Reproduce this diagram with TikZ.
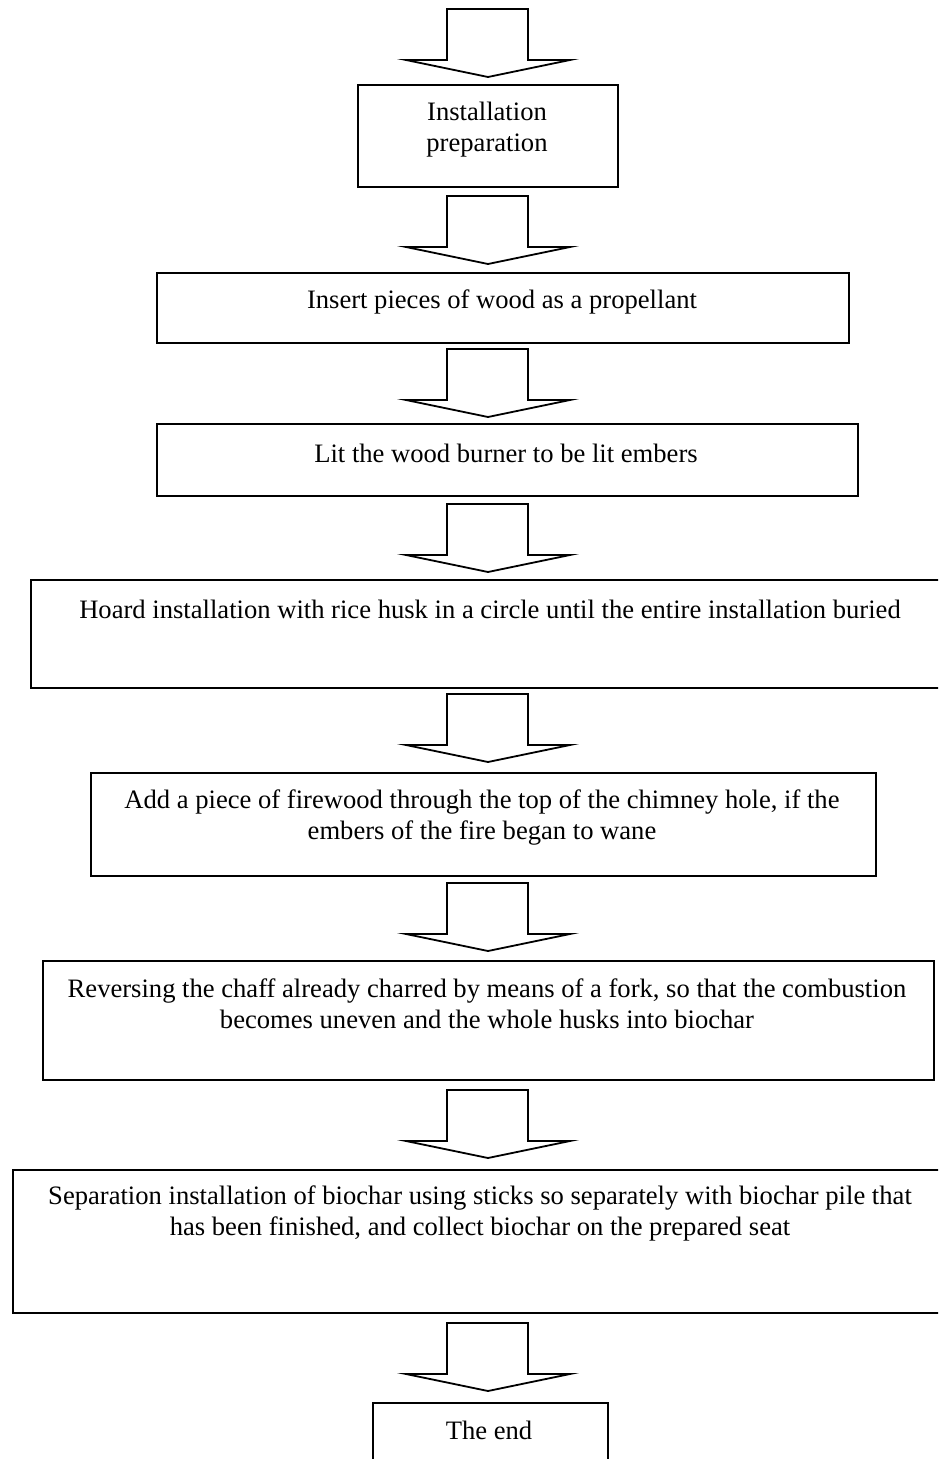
\documentclass[tikz,border=0pt]{standalone}
\usepackage{fontspec}
\setmainfont{Liberation Serif}
\usetikzlibrary{calc}
\tikzset{
  flowbox/.style={draw=black, line width=1.8pt, rectangle, inner sep=0pt, anchor=north west},
  flowtext/.style={inner sep=0pt, align=center, font=\fontsize{26.6}{31}\selectfont},
  arrowline/.style={draw=black, line width=1.8pt, fill=white, line join=miter},
  blockarrow/.pic={\path[arrowline] (-41,0) -- (40,0) -- (40,51) -- (82,51) -- (0,68) -- (-82,51) -- (-41,51) -- cycle;}
}
\begin{document}
\begin{tikzpicture}[x=1pt, y=-1pt]
\useasboundingbox (0,0) rectangle (938,1459);
\clip (0,0) rectangle (938,1459);
% boxes
\node[flowbox, minimum width=260pt, minimum height=102pt] (b1) at (357,84) {};
\node[flowbox, minimum width=692pt, minimum height=70pt] (b2) at (156,272) {};
\node[flowbox, minimum width=701pt, minimum height=72pt] (b3) at (156,423) {};
\node[flowbox, minimum width=930pt, minimum height=108pt] (b4) at (30,579) {};
\node[flowbox, minimum width=785pt, minimum height=103pt] (b5) at (90,772) {};
\node[flowbox, minimum width=891pt, minimum height=119pt] (b6) at (42,960) {};
\node[flowbox, minimum width=950pt, minimum height=143pt] (b7) at (12,1169) {};
\node[flowbox, minimum width=235pt, minimum height=80pt] (b8) at (372,1402) {};
% texts
\node[flowtext] (t1) at (487,130) {Installation\\preparation};
\node[flowtext] (t2) at (502,302) {Insert pieces of wood as a propellant};
\node[flowtext] (t3) at (506,453) {Lit the wood burner to be lit embers};
\node[flowtext] (t4) at (490,609) {Hoard installation with rice husk in a circle until the entire installation buried};
\node[flowtext] (t5) at (482,817) {Add a piece of firewood through the top of the chimney hole, if the\\embers of the fire began to wane};
\node[flowtext] (t6) at (487,1004) {Reversing the chaff already charred by means of a fork, so that the combustion\\becomes uneven and the whole husks into biochar};
\node[flowtext] (t7) at (480,1213) {Separation installation of biochar using sticks so separately with biochar pile that\\has been finished, and collect biochar on the prepared seat};
\node[flowtext] (t8) at (489,1430) {The end};
% block arrows
\coordinate (a1) at (488,9);
\coordinate (a2) at (488,196);
\coordinate (a3) at (488,349);
\coordinate (a4) at (488,504);
\coordinate (a5) at (488,694);
\coordinate (a6) at (488,883);
\coordinate (a7) at (488,1090);
\coordinate (a8) at (488,1323);
\foreach \a in {a1,a2,a3,a4,a5,a6,a7,a8} {\pic at (\a) {blockarrow};}
\end{tikzpicture}
\end{document}
